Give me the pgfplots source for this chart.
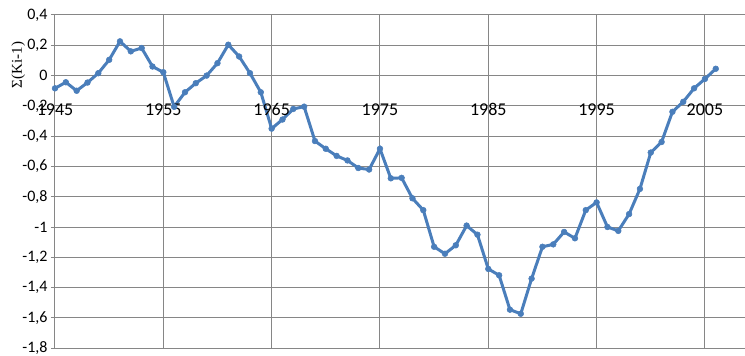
\documentclass[border=0pt]{standalone}
\usepackage{pgfplots}
\pgfplotsset{compat=1.18}
\usepackage{fontspec}
\setmainfont{Carlito}[Numbers=Lining]
\newfontfamily\serifont{Liberation Serif}
\definecolor{lineblue}{HTML}{4A7EBB}
\definecolor{gridgray}{HTML}{868686}
\begin{document}
\begin{tikzpicture}
\begin{axis}[
  scale only axis, width=690pt, height=333.3pt,
  xmin=1945, xmax=2008.7, ymin=-1.8, ymax=0.4,
  clip=false,
  axis y line*=left,
  axis line style={gridgray, line width=1pt},
  xtick={1945,1955,1965,1975,1985,1995,2005},
  xticklabels={},
  xtick style={draw=none},
  ytick={-1.8,-1.6,-1.4,-1.2,-1,-0.8,-0.6,-0.4,-0.2,0,0.2,0.4},
  ytick style={gridgray, line width=1pt},
  tick align=outside, major tick length=4pt,
  xmajorgrids, ymajorgrids,
  grid style={gridgray, line width=1pt},
  /pgf/number format/assume math mode=true,
  yticklabel style={font=\fontsize{16}{16}\selectfont, xshift=0pt,
    /pgf/number format/.cd, use comma, fixed, precision=1},
]
\addplot[color=lineblue, line width=3pt, mark=*, mark size=2.9pt,
  mark options={fill=lineblue, draw=lineblue, line width=0.5pt}] coordinates {
(1945,-0.084) (1946,-0.044) (1947,-0.100) (1948,-0.046) (1949,0.016)
(1950,0.104) (1951,0.226) (1952,0.160) (1953,0.182) (1954,0.060)
(1955,0.022) (1956,-0.206) (1957,-0.110) (1958,-0.050) (1959,0.000)
(1960,0.082) (1961,0.204) (1962,0.126) (1963,0.016) (1964,-0.110)
(1965,-0.350) (1966,-0.290) (1967,-0.220) (1968,-0.205) (1969,-0.432)
(1970,-0.483) (1971,-0.530) (1972,-0.560) (1973,-0.610) (1974,-0.620)
(1975,-0.483) (1976,-0.678) (1977,-0.675) (1978,-0.810) (1979,-0.888)
(1980,-1.130) (1981,-1.176) (1982,-1.120) (1983,-0.990) (1984,-1.050)
(1985,-1.276) (1986,-1.318) (1987,-1.545) (1988,-1.572) (1989,-1.340)
(1990,-1.130) (1991,-1.114) (1992,-1.032) (1993,-1.074) (1994,-0.888)
(1995,-0.837) (1996,-0.999) (1997,-1.025) (1998,-0.914) (1999,-0.748)
(2000,-0.508) (2001,-0.438) (2002,-0.239) (2003,-0.173) (2004,-0.084)
(2005,-0.022) (2006,0.045)
};
\pgfplotsinvokeforeach{1945,1955,1965,1975,1985,1995,2005}{
  \node[font=\fontsize{18}{18}\selectfont, inner sep=0pt, anchor=base] at (axis cs:#1,-0.263) {#1};
}
\node[rotate=90, font=\serifont\fontsize{15}{15}\selectfont, inner sep=0pt]
  at (axis cs:1941.6,0.07) {Σ(Ki-1)};
\end{axis}
\pgfresetboundingbox
\path[use as bounding box] (-55pt,-7.7pt) rectangle (690pt,348.3pt);
\end{tikzpicture}
\end{document}
